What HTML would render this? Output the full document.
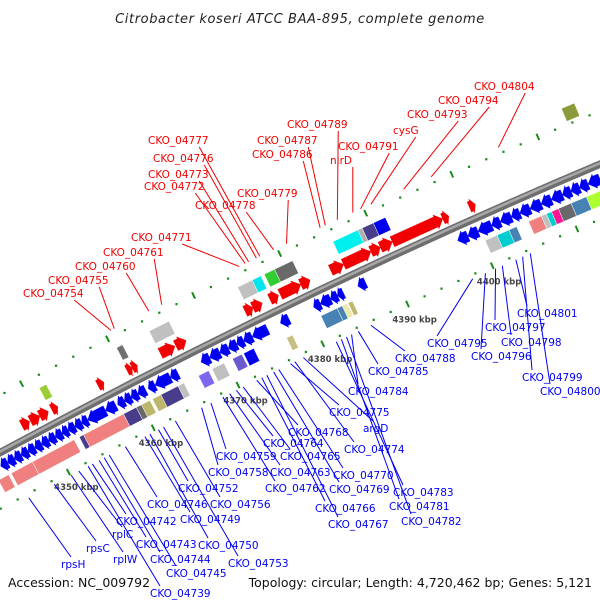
<!DOCTYPE html>
<html><head><meta charset="utf-8"><style>
body{margin:0;background:#fff;}
svg{display:block;font-family:"DejaVu Sans","Liberation Sans",sans-serif;}
</style></head><body>
<svg id="map" width="600" height="600" viewBox="0 0 600 600" xmlns="http://www.w3.org/2000/svg">
<rect width="600" height="600" fill="#fff"/>
<text x="300" y="23" text-anchor="middle" font-size="13" font-style="italic" fill="#222" letter-spacing="0.6">Citrobacter koseri ATCC BAA-895, complete genome</text>
<g id="ticks"></g>
<path d="M-10,458 Q300,290 610,160" fill="none" stroke="#6e6e6e" stroke-width="7.5"/>
<path d="M-10,457 Q300,289 610,159" fill="none" stroke="#a8a8a8" stroke-width="2.5"/>
<g id="genes"></g>
<g id="labels"></g>
<text x="8" y="587" font-size="12.5" fill="#111">Accession: NC_009792</text>
<text x="592" y="587" text-anchor="end" font-size="12.5" fill="#111">Topology: circular; Length: 4,720,462 bp; Genes: 5,121</text>
</svg>
<script>
// forward (red) CDS start/end in kbp
const fwdStart=[4348.0,4349.0,4350.1,4351.5,4356.9,4360.3,4360.9,4364.2,4366.0,4374.1,4375.0,4377.0,4378.2,4380.6,4384.1,4385.6,4388.8,4389.9,4391.3,4397.2,4400.3];
const fwdEnd  =[4348.9,4350.1,4351.1,4352.2,4357.6,4360.9,4361.5,4365.9,4367.2,4375.0,4376.1,4378.0,4380.6,4381.7,4385.6,4388.8,4389.9,4391.3,4397.2,4397.9,4401.0];
// reverse (blue) CDS start/end in kbp
const revStart=[4344.1,4344.9,4345.7,4346.5,4347.3,4348.1,4348.9,4349.7,4350.5,4351.3,4352.0,4352.8,4353.6,4354.3,4356.4,4357.8,4358.6,4359.4,4360.2,4361.4,4362.2,4364.0,4367.6,4368.6,4369.8,4370.8,4371.8,4372.6,4373.6,4376.9,4380.8,4381.6,4382.8,4383.6,4386.0,4397.7,4398.9,4400.1,4401.7,4402.7,4404.0,4405.0,4406.2,4407.5,4408.7,4410.0,4411.0,4412.0,4413.0];
const revEnd  =[4344.9,4345.7,4346.5,4347.3,4348.1,4348.9,4349.7,4350.5,4351.3,4352.0,4352.8,4353.6,4354.3,4356.4,4357.6,4358.6,4359.4,4360.2,4361.1,4362.2,4364.0,4364.9,4368.6,4369.8,4370.8,4371.8,4372.6,4373.6,4375.4,4377.9,4381.6,4382.8,4383.6,4384.3,4386.9,4398.9,4400.1,4401.7,4402.7,4404.0,4405.0,4406.2,4407.5,4408.7,4410.0,4411.0,4412.0,4413.0,4414.4];
// COG boxes, forward strand
const cogFStart=[4351.4,4360.4,4364.2,4374.5,4376.2,4377.6,4378.8,4385.6,4388.5,4389.0,4390.3];
const cogFEnd  =[4352.2,4361.1,4366.5,4376.2,4377.2,4378.8,4380.9,4388.5,4389.0,4390.3,4391.7];
const cogFColor=["#9acd32","#707070","#c0c0c0","#c0c0c0","#00e5ee","#32cd32","#696969","#00f0f0","#b0b0b0","#483d8b","#0000ee"];
// COG boxes, reverse strand
const cogRStart=[4343.2,4344.7,4347.2,4352.7,4353.2,4357.9,4359.4,4360.0,4361.3,4362.3,4364.3,4366.7,4368.3,4370.7,4372.0,4381.1,4383.0,4383.6,4384.3,4400.4,4401.8,4403.2,4405.5,4407.0,4407.6,4408.2,4409.0,4410.5,4412.3];
const cogREnd  =[4344.4,4347.2,4352.1,4353.2,4357.9,4359.4,4360.0,4361.0,4362.3,4364.3,4365.0,4367.9,4369.7,4371.8,4373.2,4383.0,4383.6,4384.2,4384.8,4401.8,4403.2,4404.1,4407.0,4407.6,4408.2,4409.0,4410.5,4412.3,4414.0];
const cogRColor=["#f08080","#f08080","#f08080","#483d8b","#f08080","#483d8b","#696969","#bdb76b","#bdb76b","#483d8b","#c0c0c0","#7b68ee","#c0c0c0","#6a5acd","#0000ee","#4682b4","#4682b4","#eee8aa","#bdb76b","#c0c0c0","#00ced1","#4682b4","#f08080","#c0c0c0","#00ced1","#ff1493","#696969","#4682b4","#adff2f"];
// outer-ring boxes
const outerStart=[4376.8,4413.5];
const outerEnd  =[4377.5,4415.0];
const outerColor=["#c8c080","#8b9a3a"];
const outerOffset=[36,-60];
// labels: forward
const fLabels=["CKO_04804","CKO_04794","CKO_04793","cysG","CKO_04791","nirD","CKO_04789","CKO_04787","CKO_04786","CKO_04777","CKO_04776","CKO_04773","CKO_04772","CKO_04779","CKO_04778","CKO_04771","CKO_04761","CKO_04760","CKO_04755","CKO_04754"];
const fLabelKbp=[4405.7,4397.9,4394.7,4390.9,4389.7,4388.8,4387.0,4385.6,4385.0,4378.0,4377.6,4376.7,4376.3,4381.1,4379.6,4375.6,4366.6,4365.1,4361.1,4360.7];
const fLabelX=[474,438,407,393,338,330,287,257,252,148,153,148,144,237,195,131,103,75,48,23];
const fLabelY=[90,104,118,134,150,164,128,144,158,144,162,178,190,197,209,241,256,270,284,297];
// labels: reverse
const rLabels=["rpsH","rpsC","rplW","rplC","CKO_04739","CKO_04745","CKO_04744","CKO_04743","CKO_04742","CKO_04753","CKO_04750","CKO_04749","CKO_04746","CKO_04756","CKO_04752","CKO_04758","CKO_04759","CKO_04762","CKO_04763","CKO_04765","CKO_04764","CKO_04768","CKO_04766","CKO_04767","CKO_04769","CKO_04770","CKO_04774","argD","CKO_04775","CKO_04784","CKO_04785","CKO_04788","CKO_04783","CKO_04781","CKO_04782","CKO_04795","CKO_04796","CKO_04797","CKO_04798","CKO_04801","CKO_04799","CKO_04800"];
const rLabelKbp=[4345.1,4348.1,4350.1,4351.0,4352.1,4354.6,4354.0,4353.4,4352.6,4361.0,4359.4,4358.8,4356.5,4362.4,4360.4,4365.5,4366.6,4368.0,4368.8,4370.4,4369.6,4372.0,4372.6,4373.2,4374.0,4374.6,4376.5,4377.5,4376.0,4383.2,4384.0,4385.5,4381.4,4382.0,4382.6,4397.5,4399.0,4400.2,4401.0,4402.6,4403.4,4404.3];
const rLabelX=[61,86,113,112,150,166,150,136,116,228,198,180,147,210,178,208,216,265,270,280,263,288,315,328,329,333,344,363,329,348,368,395,393,389,401,427,471,485,501,517,522,540];
const rLabelY=[568,552,563,538,597,577,563,548,525,567,549,523,508,508,492,476,460,492,476,460,447,436,512,528,493,479,453,432,416,395,375,362,496,510,525,347,360,331,346,317,381,395];
// ruler ticks
const tickKbp=[4350,4360,4370,4380,4390,4400];
const tickText=["4350 kbp","4360 kbp","4370 kbp","4380 kbp","4390 kbp","4400 kbp"];

const NS="http://www.w3.org/2000/svg";
function kToX(k){return 45+(k-4350)*8.54;}
function pt(k,off){
  const x=kToX(k), t=x/600;
  const y=(1-t)*(1-t)*452+2*t*(1-t)*290+t*t*165;
  const dx=600, dy=-324*(1-t)-250*t, L=Math.hypot(dx,dy);
  const nx=-dy/L, ny=dx/L;
  return [x+nx*off, y+ny*off];
}
function mk(tag,attrs,parent){const e=document.createElementNS(NS,tag);for(const a in attrs)e.setAttribute(a,attrs[a]);parent.appendChild(e);return e;}
const gG=document.getElementById('genes'), gT=document.getElementById('ticks'), gL=document.getElementById('labels');
function P(a){return a[0].toFixed(1)+","+a[1].toFixed(1);}
function arrow(s,e,off,fwd,col,name){
  const len=(e-s), head=Math.min(0.8,len*0.6), bh=5.5, hh=7.5;
  let pts;
  if(fwd){const m=e-head;pts=[pt(s,off-bh),pt(m,off-bh),pt(m,off-hh),pt(e,off),pt(m,off+hh),pt(m,off+bh),pt(s,off+bh)];}
  else{const m=s+head;pts=[pt(e,off-bh),pt(m,off-bh),pt(m,off-hh),pt(s,off),pt(m,off+hh),pt(m,off+bh),pt(e,off+bh)];}
  const p=mk('polygon',{points:pts.map(P).join(' '),fill:col,stroke:col,'stroke-width':0.4},gG);
  
  
}
function box(s,e,off,col,name){
  const h=7;
  const pts=[pt(s,off-h),pt(e,off-h),pt(e,off+h),pt(s,off+h)];
  const p=mk('polygon',{points:pts.map(P).join(' '),fill:col,stroke:'#fff','stroke-width':0.5},gG);
  
  
}
for(let k=4340;k<=4418;k+=2){
  [-50,50].forEach(off=>{
    if(k%10===0){
      const l=mk('line',{x1:pt(k,off-3.5)[0],y1:pt(k,off-3.5)[1],x2:pt(k,off+3.5)[0],y2:pt(k,off+3.5)[1],stroke:'#1a8a1a','stroke-width':2},gT);
      
      
    } else {
      const c=mk('rect',{x:pt(k,off)[0]-1,y:pt(k,off)[1]-1,width:2.2,height:2.2,fill:'#1a8a1a'},gT);
      
      
    }
  });
}
tickKbp.forEach((k,i)=>{
  const p=pt(k,67);
  const t=mk('text',{x:p[0],y:p[1]+3,'text-anchor':'middle','font-size':8.5,fill:'#444','font-weight':'bold'},gT);
  t.textContent=tickText[i];
  
  
});
fwdStart.forEach((s,i)=>arrow(s,fwdEnd[i],-13,true,'#f00000','forward-gene'));
revStart.forEach((s,i)=>arrow(s,revEnd[i],13,false,'#0000f0','reverse-gene'));
cogFStart.forEach((s,i)=>box(s,cogFEnd[i],-31,cogFColor[i],'forward-cog-box'));
cogRStart.forEach((s,i)=>box(s,cogREnd[i],31,cogRColor[i],'reverse-cog-box'));
outerStart.forEach((s,i)=>box(s,outerEnd[i],outerOffset[i],outerColor[i],'outer-box'));
function label(txt,k,x,y,col,off,up){
  const w=txt.length*6.7;
  const e=pt(k,off);
  const sx=up? x+w*0.85:x+10, sy=up? y+3:y-11;
  const l=mk('line',{x1:sx,y1:sy,x2:e[0],y2:e[1],stroke:col,'stroke-width':1},gL);
  
  
  const t=mk('text',{x:x,y:y,'font-size':10.5,fill:col},gL);
  t.textContent=txt;
  
  
}
fLabels.forEach((n,i)=>label(n,fLabelKbp[i],fLabelX[i],fLabelY[i],'#f00000',-56,true));
rLabels.forEach((n,i)=>label(n,rLabelKbp[i],rLabelX[i],rLabelY[i],'#0000f0',54,false));
</script>
</body></html>
